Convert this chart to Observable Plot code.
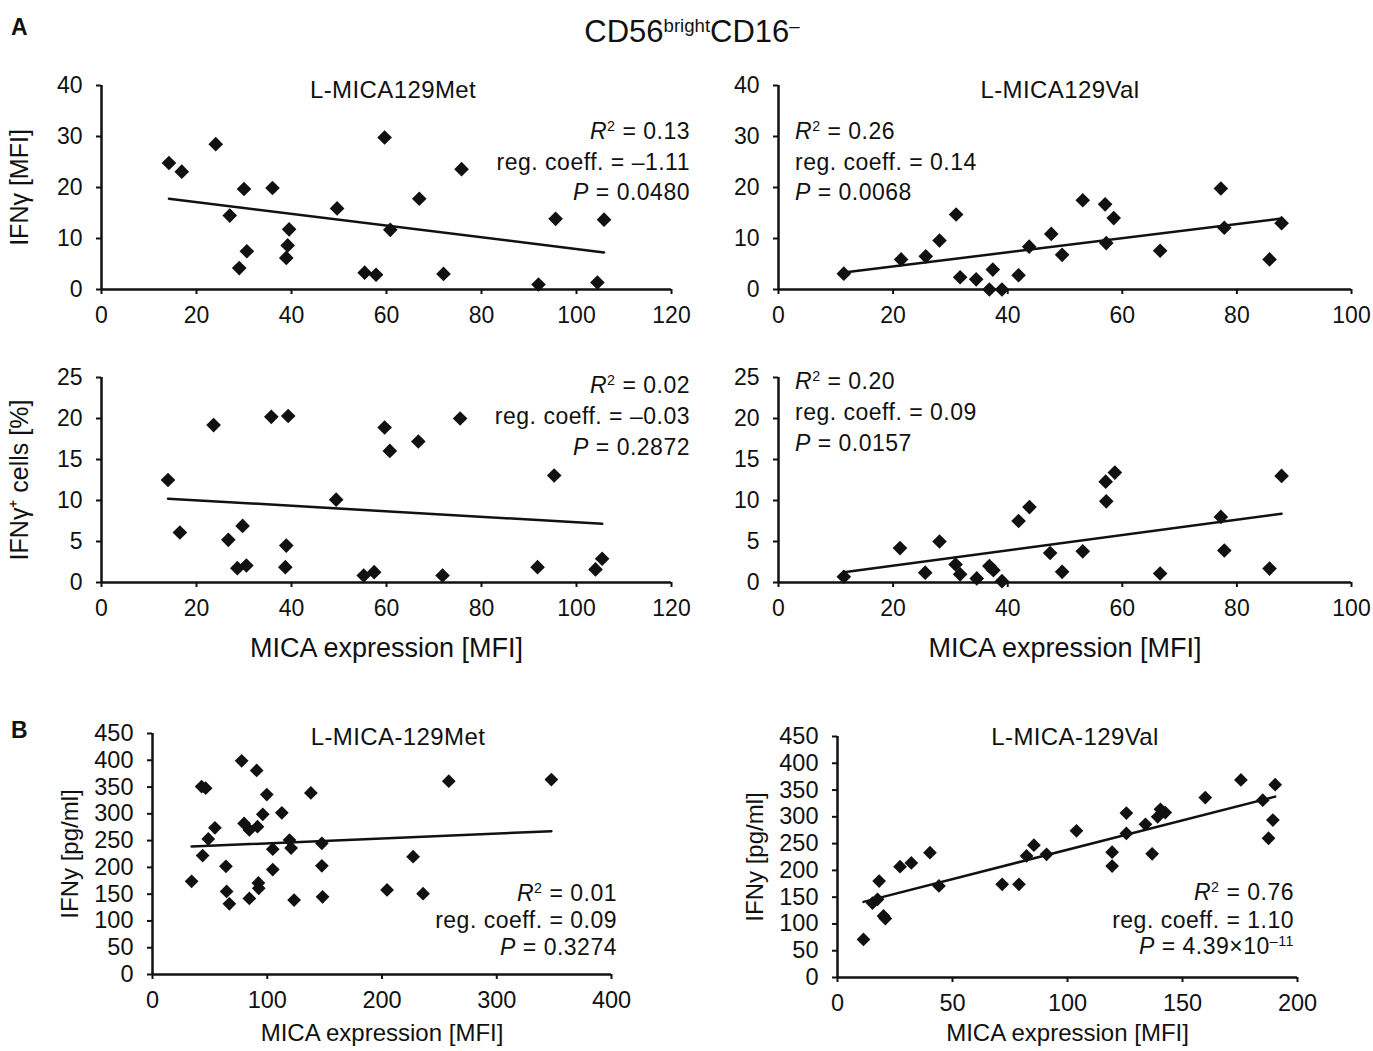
<!DOCTYPE html>
<html>
<head>
<meta charset="utf-8">
<script src="https://cdn.jsdelivr.net/npm/d3@7"></script>
<script src="https://cdn.jsdelivr.net/npm/@observablehq/plot@0.6"></script>
<style>
  body { margin: 0; background: #fff; }
  #fig { position: relative; width: 1373px; height: 1051px; background: #fff; overflow: hidden;
         font-family: "Liberation Sans", Arial, Helvetica, sans-serif; color: #111; }
  .panel { position: absolute; }
  .t { position: absolute; white-space: nowrap; line-height: 1; }
  .sup { font-size: 0.62em; position: relative; top: -0.55em; }
</style>
</head>
<body>
<div id="fig"></div>
<script>
const FONT = '"Liberation Sans", Arial, Helvetica, sans-serif';

// ---------- Panel A: CD56bright CD16- ----------
// L-MICA129Met, IFNγ [MFI]
const a1X = [14.2, 16.9, 24.05, 27.0, 29.0, 30.0, 30.6, 36.0, 38.9, 39.2, 39.5, 49.6, 55.4, 57.8, 59.6, 60.8, 66.9, 72.0, 75.8, 92.0, 95.6, 104.4, 105.8];
const a1Y = [24.8, 23.1, 28.5, 14.5, 4.2, 19.7, 7.5, 19.9, 6.2, 8.65, 11.8, 15.9, 3.3, 2.9, 29.8, 11.7, 17.8, 3.05, 23.6, 0.98, 13.85, 1.37, 13.7];
// L-MICA129Val, IFNγ [MFI]
const a2X = [11.4, 21.4, 25.7, 28.1, 31.0, 31.7, 34.5, 36.8, 37.4, 39.0, 41.9, 43.75, 47.6, 49.5, 53.1, 57.0, 57.2, 58.5, 66.6, 77.2, 77.8, 85.7, 87.8];
const a2Y = [3.1, 5.9, 6.5, 9.6, 14.7, 2.4, 2.0, 0.0, 3.9, 0.0, 2.8, 8.4, 10.9, 6.8, 17.5, 16.7, 9.1, 14.0, 7.6, 19.8, 12.1, 5.9, 13.0];
// L-MICA129Met, IFNγ+ cells [%]
const a3X = [14.0, 16.5, 23.6, 26.7, 28.6, 29.7, 30.5, 35.75, 38.7, 38.9, 39.3, 49.4, 55.2, 57.4, 59.6, 60.7, 66.7, 71.8, 75.5, 91.8, 95.3, 104.0, 105.4];
const a3Y = [12.5, 6.1, 19.2, 5.2, 1.75, 6.9, 2.07, 20.2, 1.87, 4.5, 20.3, 10.1, 0.85, 1.26, 18.9, 16.05, 17.2, 0.85, 20.0, 1.87, 13.05, 1.6, 2.9];
// L-MICA129Val, IFNγ+ cells [%]
const a4X = [11.4, 21.2, 25.6, 28.1, 30.9, 31.7, 34.6, 36.8, 37.5, 39.0, 41.9, 43.8, 47.4, 49.5, 53.1, 57.1, 57.2, 58.7, 66.6, 77.2, 77.8, 85.7, 87.8];
const a4Y = [0.7, 4.2, 1.2, 5.0, 2.2, 1.0, 0.5, 2.0, 1.5, 0.16, 7.5, 9.2, 3.6, 1.3, 3.8, 12.3, 9.9, 13.4, 1.1, 8.0, 3.9, 1.7, 13.0];

// ---------- Panel B ----------
// L-MICA-129Met, IFNy [pg/ml]
const b1X = [34.1, 42.8, 46.3, 43.7, 48.6, 54.4, 64.0, 64.6, 67.0, 77.7, 79.8, 84.4, 84.4, 90.8, 91.5, 92.3, 92.6, 96.1, 99.6, 104.8, 104.8, 112.7, 119.4, 120.8, 123.4, 138.0, 147.6, 147.6, 148.2, 204.4, 227.1, 235.8, 258.2, 347.6];
const b1Y = [174, 351, 348, 222, 253, 274, 202, 155, 132, 399, 282, 270, 142, 381, 276, 171, 161, 299, 336, 234, 196, 302, 251, 236, 139, 339, 245, 203, 145, 158, 220, 151, 361, 364];
// L-MICA-129Val, IFNy [pg/ml]
const b2X = [11.3, 15.2, 18.1, 17.4, 20.0, 20.8, 27.2, 32.1, 40.2, 44.1, 71.6, 78.9, 82.2, 85.4, 90.9, 103.9, 119.4, 119.4, 125.6, 125.6, 133.9, 136.8, 139.2, 140.4, 142.5, 159.9, 175.4, 184.9, 187.4, 189.3, 190.3];
const b2Y = [71, 139, 180, 146, 115, 110, 207, 214, 233, 171, 174, 174, 227, 247, 230, 274, 234, 208, 307, 269, 286, 231, 300, 314, 308, 336, 369, 331, 260, 294, 360];

// ---------- tick values ----------
const ticksX120 = [0, 20, 40, 60, 80, 100, 120];
const ticksX100 = [0, 20, 40, 60, 80, 100];
const ticksY40 = [0, 10, 20, 30, 40];
const ticksY25 = [0, 5, 10, 15, 20, 25];
const ticksX400 = [0, 100, 200, 300, 400];
const ticksX200 = [0, 50, 100, 150, 200];
const ticksY450 = [0, 50, 100, 150, 200, 250, 300, 350, 400, 450];

// ---------- texts ----------
const mainTitle = ["CD56", "bright", "CD16", "–"];
const panelTitles = ["L-MICA129Met", "L-MICA129Val", "L-MICA-129Met", "L-MICA-129Val"];
const statR2 = ["0.13", "0.26", "0.02", "0.20", "0.01", "0.76"];
const statCoef = ["–1.11", "0.14", "–0.03", "0.09", "0.09", "1.10"];
const statP = ["0.0480", "0.0068", "0.2872", "0.0157", "0.3274", "4.39×10<span class='sup'>–11</span>"];
const labelX = "MICA expression [MFI]";
const labelYA1 = "IFNγ [MFI]";
const labelYA2 = "IFNγ⁺ cells [%]";
const labelYB = "IFNy [pg/ml]";

const fig = document.getElementById("fig");
const zip = (xs, ys) => xs.map((x, i) => ({x, y: ys[i]}));

function panel(o) {
  const data = zip(o.x, o.y);
  const marks = [
    Plot.axisX({ticks: o.xTicks, tickSize: 5, tickPadding: 12, strokeWidth: 2, label: null, fontSize: o.tickFont}),
    Plot.axisY({ticks: o.yTicks, tickSize: 5, tickPadding: 14, strokeWidth: 2, label: null, fontSize: o.tickFont}),
    Plot.ruleX([0], {stroke: "#111", strokeWidth: 2.5}),
    Plot.ruleY([0], {stroke: "#111", strokeWidth: 2.5}),
    Plot.linearRegressionY(data, {x: "x", y: "y", ci: 0, stroke: "#111", strokeWidth: 2.5}),
    Plot.dot(data, {x: "x", y: "y", symbol: "diamond2", r: o.r, fill: "#111", stroke: "none"})
  ];
  if (o.yLabel) marks.push(Plot.text([o.yLabel], {text: d => d, frameAnchor: "left", dx: o.yLabelDx, rotate: -90, textAnchor: "middle", lineAnchor: "middle", fontSize: o.labelFont, fill: "#111"}));
  if (o.xLabel) marks.push(Plot.text([o.xLabel], {text: d => d, frameAnchor: "bottom", dy: o.xLabelDy, textAnchor: "middle", lineAnchor: "middle", fontSize: o.labelFontX || o.labelFont, fill: "#111"}));
  const svg = Plot.plot({
    width: o.width, height: o.height,
    marginLeft: o.ml, marginRight: o.mr, marginTop: o.mt, marginBottom: o.mb,
    style: {fontFamily: FONT, fontSize: o.tickFont + "px", color: "#111", background: "transparent", overflow: "visible"},
    x: {domain: o.xDomain},
    y: {domain: o.yDomain},
    marks
  });
  const div = document.createElement("div");
  div.className = "panel";
  div.style.left = o.left + "px";
  div.style.top = o.top + "px";
  div.appendChild(svg);
  fig.appendChild(div);
}

function txt(html, {x, cy, size, align = "left", bold = false, family, spacing = 0}) {
  const d = document.createElement("div");
  d.className = "t";
  d.innerHTML = html;
  d.style.fontSize = size + "px";
  d.style.top = (cy - 0.49 * size) + "px";
  if (spacing) d.style.letterSpacing = spacing + "px";
  if (bold) d.style.fontWeight = "bold";
  if (family) d.style.fontFamily = family;
  if (align === "left") d.style.left = x + "px";
  else if (align === "right") { d.style.right = (1373 - x) + "px"; d.style.textAlign = "right"; }
  else { d.style.left = x + "px"; d.style.transform = "translateX(-50%)"; }
  fig.appendChild(d);
}

// A panels
panel({x: a1X, y: a1Y, xDomain: [0, 120], yDomain: [0, 40], xTicks: ticksX120, yTicks: ticksY40,
  left: 0, top: 60, width: 700, height: 290, ml: 101, mr: 29, mt: 25, mb: 61, r: 6.6, tickFont: 23,
  yLabel: labelYA1, yLabelDx: -82, labelFont: 25});
panel({x: a2X, y: a2Y, xDomain: [0, 100], yDomain: [0, 40], xTicks: ticksX100, yTicks: ticksY40,
  left: 700, top: 60, width: 673, height: 290, ml: 78, mr: 22, mt: 25, mb: 61, r: 6.6, tickFont: 23});
panel({x: a3X, y: a3Y, xDomain: [0, 120], yDomain: [0, 25], xTicks: ticksX120, yTicks: ticksY25,
  left: 0, top: 350, width: 700, height: 330, ml: 101, mr: 29, mt: 27, mb: 98, r: 6.6, tickFont: 23,
  yLabel: labelYA2, yLabelDx: -82, labelFont: 25, xLabel: labelX, xLabelDy: 66, labelFontX: 27});
panel({x: a4X, y: a4Y, xDomain: [0, 100], yDomain: [0, 25], xTicks: ticksX100, yTicks: ticksY25,
  left: 700, top: 350, width: 673, height: 330, ml: 78, mr: 22, mt: 27, mb: 98, r: 6.6, tickFont: 23,
  xLabel: labelX, xLabelDy: 66, labelFont: 27});
// B panels
panel({x: b1X, y: b1Y, xDomain: [0, 400], yDomain: [0, 450], xTicks: ticksX400, yTicks: ticksY450,
  left: 0, top: 700, width: 680, height: 351, ml: 152, mr: 69, mt: 33, mb: 77, r: 6.2, tickFont: 23.5,
  yLabel: labelYB, yLabelDx: -82, labelFont: 24, xLabel: labelX, xLabelDy: 59});
panel({x: b2X, y: b2Y, xDomain: [0, 200], yDomain: [0, 450], xTicks: ticksX200, yTicks: ticksY450,
  left: 700, top: 700, width: 673, height: 351, ml: 137, mr: 76, mt: 36, mb: 74, r: 6.2, tickFont: 23.5,
  yLabel: labelYB, yLabelDx: -82, labelFont: 24, xLabel: labelX, xLabelDy: 56});

// panel letters and titles
const narrow = '"Liberation Sans Narrow", "Liberation Sans", Arial, sans-serif';
txt("A", {x: 11, cy: 27, size: 23, bold: true, family: narrow});
txt("B", {x: 11, cy: 730, size: 23, bold: true, family: narrow});
txt(`${mainTitle[0]}<span class="sup" style="font-size:0.6em">${mainTitle[1]}</span>${mainTitle[2]}<span class="sup" style="font-size:0.6em">${mainTitle[3]}</span>`,
  {x: 692, cy: 31, size: 31, align: "center"});
txt(panelTitles[0], {x: 393, cy: 90, size: 24, align: "center", spacing: 0.4});
txt(panelTitles[1], {x: 1060, cy: 90, size: 24, align: "center", spacing: 0.4});
txt(panelTitles[2], {x: 398, cy: 737, size: 24, align: "center", spacing: 0.4});
txt(panelTitles[3], {x: 1075, cy: 737, size: 24, align: "center", spacing: 0.4});

// statistics
const stats = [
  {x: 690, ys: [131, 162, 192], align: "right", size: 23},
  {x: 795, ys: [131, 162, 192], align: "left", size: 23},
  {x: 690, ys: [385, 416, 447], align: "right", size: 23},
  {x: 795, ys: [381, 412, 443], align: "left", size: 23},
  {x: 617, ys: [893, 920, 947], align: "right", size: 23},
  {x: 1294, ys: [892, 920, 946], align: "right", size: 23}
];
stats.forEach((s, i) => {
  const opt = (cy) => ({x: s.x, cy, size: s.size, align: s.align, spacing: 0.5});
  txt(`<i>R</i><span class="sup">2</span> = ${statR2[i]}`, opt(s.ys[0]));
  txt(`reg. coeff. = ${statCoef[i]}`, opt(s.ys[1]));
  txt(`<i>P</i> = ${statP[i]}`, opt(s.ys[2]));
});
</script>
</body>
</html>
